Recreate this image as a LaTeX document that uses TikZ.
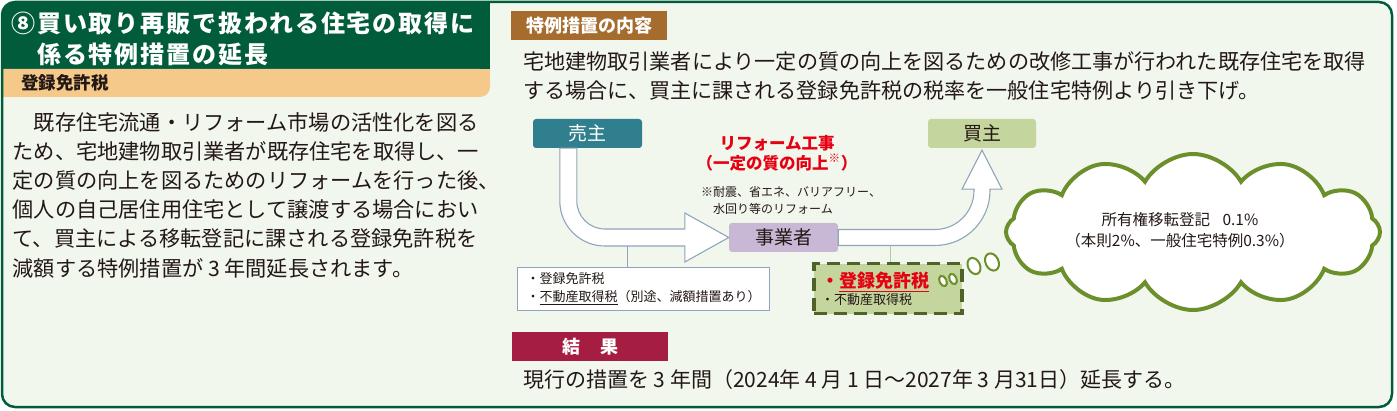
\documentclass[tikz,border=0pt]{standalone}
\usepackage{fontspec}
\setmainfont{Noto Sans CJK JP}
\newfontfamily\titlefont{Noto Sans CJK JP}[LetterSpace=8]
\usetikzlibrary{shapes.symbols,calc}
\definecolor{bgc}{HTML}{F2F7EE}
\definecolor{dkgreen}{HTML}{005C3A}
\definecolor{orangeband}{HTML}{F4C98A}
\definecolor{brownhd}{HTML}{A66C2E}
\definecolor{crimson}{HTML}{A51D40}
\definecolor{tealc}{HTML}{2F7F8E}
\definecolor{lavender}{HTML}{C8B8D5}
\definecolor{lightgr}{HTML}{C4D69E}
\definecolor{olive}{HTML}{6B8F2B}
\definecolor{dashc}{HTML}{4F6228}
\definecolor{arrowc}{HTML}{8FA5BA}
\definecolor{redc}{HTML}{E60012}
\definecolor{txt}{HTML}{231815}
\definecolor{line2c}{HTML}{B5C9A0}
\newcommand{\fsz}[2]{\fontsize{#1pt}{#2pt}\selectfont}
\newcommand{\gp}{\hspace{0.22em}}
\begin{document}
\begin{tikzpicture}[x=1pt,y=-1pt,
  every node/.style={text=txt},
  hdr/.style={anchor=north west, minimum width=156, minimum height=29, inner sep=0, text=white, font=\fsz{18}{22}\bfseries},
  role/.style={rounded corners=3, minimum width=109, minimum height=29, inner sep=0, font=\fsz{19}{22}},
  bigarrow/.style={draw=arrowc, fill=white, line width=1.1, line join=miter},
  thinline/.style={draw=#1, line width=1},
  bubble/.style={draw=olive, fill=white, line width=2}
]
\useasboundingbox (0,0) rectangle (1397,411);
\fill[white] (0,0) rectangle (1397,411);
\fill[bgc, rounded corners=13] (2,2) rectangle (1392,407);
\begin{scope}
  \clip[rounded corners=13] (2,2) rectangle (1392,407);
  \fill[dkgreen] (0,0) rectangle (490,69);
  \fill[orangeband, rounded corners=10] (-20,69) rectangle (490,97);
  \fill[orangeband] (0,69) rectangle (490,83);
\end{scope}
\draw[dkgreen, line width=2.5, rounded corners=13] (2,2) rectangle (1392,407);

% left column
\node[anchor=north west, inner sep=0, align=left, text=white, font=\titlefont\bfseries\fsz{24}{30.5}] (title) at (11,12)
  {⑧買い取り再販で扱われる住宅の取得に\\　係る特例措置の延長};
\node[anchor=west, inner sep=0, font=\fsz{17.5}{20}\bfseries] (bandtxt) at (21,83) {登録免許税};
\node[anchor=north west, inner sep=0, align=left, font=\fsz{21.2}{29.2}] (body) at (12.5,112)
  {　既存住宅流通・リフォーム市場の活性化を図る\\ため、宅地建物取引業者が既存住宅を取得し、一\\定の質の向上を図るためのリフォームを行った後、\\個人の自己居住用住宅として譲渡する場合におい\\て、買主による移転登記に課される登録免許税を\\減額する特例措置が{\gp}3{\gp}年間延長されます。};

% right column
\node[hdr, fill=brownhd] (hd1) at (511,11) {特例措置の内容};
\node[anchor=north west, inner sep=0, align=left, font=\fsz{21.1}{29}] (intro) at (523,51)
  {宅地建物取引業者により一定の質の向上を図るための改修工事が行われた既存住宅を取得\\する場合に、買主に課される登録免許税の税率を一般住宅特例より引き下げ。};

\node[role, fill=tealc, text=white] (seller) at (587.5,133.5) {売主};
\node[role, fill=lavender] (dealer) at (783.5,237.5) {事業者};
\node[role, fill=lightgr, minimum width=108] (buyer) at (982,133.5) {買主};

\node[align=center, inner sep=0, text=redc, font=\fsz{16.5}{20}\bfseries] (reform) at (777,153)
  {リフォーム工事\\（一定の質の向上\textsuperscript{※}）};
\node[anchor=west, align=left, inner sep=0, font=\fsz{12}{17}] (note) at (701,200.5)
  {※耐震、省エネ、バリアフリー、\\\hspace*{1em}{}水回り等のリフォーム};

\node[draw=arrowc, fill=white, line width=1, anchor=north west, minimum width=252, minimum height=43,
  inner xsep=9, inner ysep=0, text width=234, align=left, font=\fsz{13}{18}] (tax1) at (517,267)
  {・登録免許税\\・\underline{不動産取得税}（別途、減額措置あり）};

\node[fill=lightgr, draw=dashc, dash pattern=on 13pt off 7pt, line width=3.5, anchor=north west,
  minimum width=148, minimum height=50, inner sep=0] (tax2) at (812,262) {};
\node[anchor=west, inner sep=0, text=redc, font=\fsz{18}{20}\bfseries] (tax2a) at ($(tax2.north west)+(9,20)$) {・\underline{登録免許税}};
\node[anchor=west, inner sep=0, font=\fsz{13}{16}] (tax2b) at ($(tax2.north west)+(9,38)$) {・不動産取得税};

% arrow seller -> dealer
\coordinate (A0) at ($(seller.south west)+(27,0)$);
\coordinate (A1) at (dealer.west);
\coordinate (j1) at ($(A1)+(-101,8.5)$);
\draw[thinline=arrowc] (j1) -- (j1 |- tax1.north);
\path[bigarrow] (A0) -- ($(A0|-A1)+(0,-36.5)$) arc[start angle=180, end angle=90, radius=45]
  -- ($(A1)+(-44,8.5)$) -- ($(A1)+(-44,24.5)$) -- (A1) -- ($(A1)+(-44,-24.5)$) -- ($(A1)+(-44,-8.5)$)
  -- ($(A0|-A1)+(45,-8.5)$) arc[start angle=90, end angle=180, radius=28]
  -- ($(A0)+(17,0)$) -- cycle;

% arrow dealer -> buyer
\coordinate (B0) at (dealer.east);
\coordinate (B1) at (buyer.south);
\coordinate (j2) at ($(B0)+(52,8)$);
\draw[thinline=line2c] (j2) -- (j2 |- tax2.north);
\path[bigarrow] ($(B0)+(0,8)$) -- ($(B1|-B0)+(-47,8)$) arc[start angle=90, end angle=0, radius=55]
  -- ($(B1)+(8,41)$) -- ($(B1)+(20,41)$) -- ($(B1)+(0,2)$) -- ($(B1)+(-20,41)$) -- ($(B1)+(-8,41)$)
  -- ($(B1|-B0)+(-8,-47)$) arc[start angle=0, end angle=90, radius=39]
  -- ($(B0)+(0,-8)$) -- cycle;

% thought bubbles and cloud
\draw[bubble, rotate around={25:(943,281)}] (943,281) ellipse [x radius=3.5, y radius=5.5];
\draw[bubble, rotate around={25:(953,279)}] (953,279) ellipse [x radius=3.5, y radius=5.5];
\draw[bubble, rotate around={25:(974,266)}] (974,266) ellipse [x radius=6, y radius=8.5];
\draw[bubble, rotate around={25:(992,262)}] (992,262) ellipse [x radius=6.5, y radius=9];
\node[cloud, cloud puffs=12, cloud puff arc=120, cloud ignores aspect, minimum width=374, minimum height=156,
  draw=olive, line width=4, fill=white] (cloud) at (1193,232) {};
\node[align=center, inner sep=0, font=\fsz{15.5}{20.5}] (cloudtxt) at (1180,230)
  {所有権移転登記\hspace{0.8em}0.1\%\\（本則2\%、一般住宅特例0.3\%）};

% result
\node[hdr, fill=crimson] (hd2) at (512,332) {結\hspace{1.1em}果};
\node[anchor=west, inner sep=0, font=\fsz{21}{24}] (result) at (523,380)
  {現行の措置を{\gp}3{\gp}年間（2024年{\gp}4{\gp}月{\gp}1{\gp}日～2027年{\gp}3{\gp}月31日）延長する。};
\end{tikzpicture}
\end{document}
